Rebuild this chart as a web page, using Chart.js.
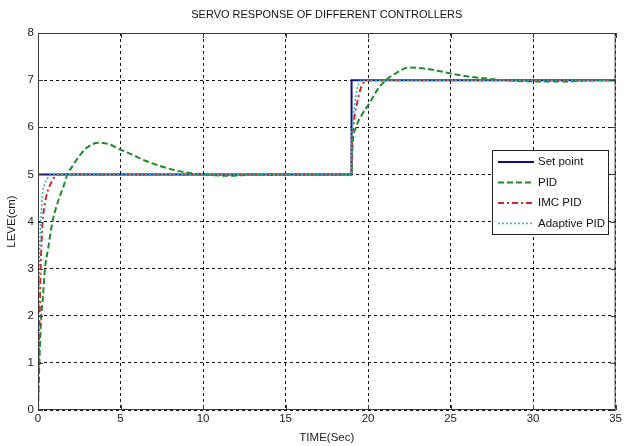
<!DOCTYPE html>
<html>
<head>
<meta charset="utf-8">
<script src="https://cdn.jsdelivr.net/npm/chart.js@4.4.1/dist/chart.umd.min.js"></script>
<style>
  html, body { margin: 0; padding: 0; background: #fff; }
</style>
</head>
<body>
<canvas id="servoChart" width="624" height="446"></canvas>
<script>
/* ------------------------------------------------------------------ */
/*  Data                               */
/* ------------------------------------------------------------------ */

var CHART_TITLE = 'SERVO RESPONSE OF DIFFERENT CONTROLLERS';
var X_TITLE = 'TIME(Sec)';
var Y_TITLE = 'LEVE(cm)';

var X_TICKS = [0, 5, 10, 15, 20, 25, 30, 35];
var Y_TICKS = [0, 1, 2, 3, 4, 5, 6, 7, 8];

var SERIES_NAMES = ['Set point', 'PID', 'IMC PID', 'Adaptive PID'];

var setPointTime  = [0, 0, 19, 19, 35];
var setPointLevel = [0, 5, 5, 7, 7];

var pidTime  = [0, 0.1, 0.2, 0.3, 0.42, 0.6, 0.88, 1.1, 1.39, 1.55, 1.78, 2.1, 2.34, 2.94, 3.65, 4.3, 4.96, 5.7, 6.37, 7.38, 8.38, 9.19, 10, 10.8, 11.4, 12.2, 13, 19, 19.06, 19.27, 19.6, 20.07, 20.57, 21.08, 21.7, 22.5, 23.3, 24.2, 25, 26, 27.3, 28.3, 29.1, 30.5, 32, 33, 35];
var pidLevel = [0, 1.2, 2.0, 2.4, 3.0, 3.4, 4.0, 4.3, 4.6, 4.75, 5.0, 5.18, 5.31, 5.56, 5.67, 5.64, 5.53, 5.42, 5.31, 5.18, 5.08, 5.03, 5.0, 4.98, 4.97, 4.98, 5.0, 5.0, 5.6, 6.0, 6.25, 6.5, 6.8, 7.0, 7.15, 7.27, 7.25, 7.2, 7.14, 7.08, 7.03, 7.0, 6.98, 6.97, 6.97, 6.99, 7.0];

var imcTime  = [0, 0.05, 0.1, 0.16, 0.28, 0.38, 0.48, 0.62, 0.77, 0.95, 1.23, 1.6, 19, 19.02, 19.1, 19.2, 19.33, 19.53, 19.7, 19.87, 20.3, 35];
var imcLevel = [0, 1.2, 2.0, 3.0, 4.0, 4.3, 4.5, 4.68, 4.8, 4.92, 5.0, 5.0, 5.0, 5.6, 6.0, 6.28, 6.5, 6.8, 6.93, 7.0, 7.0, 7.0];

var adaptiveTime  = [0, 0.04, 0.08, 0.16, 0.22, 0.28, 0.42, 0.58, 0.8, 1.2, 19, 19.01, 19.05, 19.2, 19.33, 19.45, 19.57, 20, 35];
var adaptiveLevel = [0, 2.0, 3.0, 4.0, 4.3, 4.6, 4.8, 4.92, 5.0, 5.0, 5.0, 5.6, 6.0, 6.5, 6.8, 6.93, 7.0, 7.0, 7.0];

/* ------------------------------------------------------------------ */
/*  Helpers                                                           */
/* ------------------------------------------------------------------ */

var FONT_FAMILY = '"Liberation Sans", Arial, sans-serif';
var FONT_SIZE = 11.5;

function toPoints(xs, ys) {
  return xs.map(function (x, i) {
    return { x: x, y: ys[i] };
  });
}

/** Draws the MATLAB-style axes box and short inward tick marks. */
var axesBoxPlugin = {
  id: 'axesBox',
  afterDraw: function (chart) {
    var ctx = chart.ctx;
    var a = chart.chartArea;
    var xs = chart.scales.x;
    var ys = chart.scales.y;
    ctx.save();
    ctx.strokeStyle = '#3a3a3a';
    ctx.lineWidth = 1;
    ctx.strokeRect(a.left + 0.5, a.top + 0.5, a.right - a.left - 1, a.bottom - a.top - 1);
    ctx.beginPath();
    X_TICKS.forEach(function (v) {
      var px = Math.round(xs.getPixelForValue(v)) + 0.5;
      ctx.moveTo(px, a.bottom); ctx.lineTo(px, a.bottom - 5);
      ctx.moveTo(px, a.top); ctx.lineTo(px, a.top + 5);
    });
    Y_TICKS.forEach(function (v) {
      var py = Math.round(ys.getPixelForValue(v)) + 0.5;
      ctx.moveTo(a.left, py); ctx.lineTo(a.left + 5, py);
      ctx.moveTo(a.right, py); ctx.lineTo(a.right - 5, py);
    });
    ctx.stroke();
    ctx.restore();
  },
};

/** Draws the boxed legend inside the plot, to the right. */
var boxLegendPlugin = {
  id: 'boxLegend',
  afterDraw: function (chart) {
    var ctx = chart.ctx;
    var left = 492, top = 150, width = 116, height = 84;
    var rowGap = 20.5, firstRow = 162;
    ctx.save();
    ctx.fillStyle = '#fff';
    ctx.fillRect(left, top, width, height);
    ctx.strokeStyle = '#222';
    ctx.lineWidth = 1;
    ctx.strokeRect(left + 0.5, top + 0.5, width, height);
    ctx.font = FONT_SIZE + 'px ' + FONT_FAMILY;
    ctx.textBaseline = 'middle';
    chart.data.datasets.forEach(function (ds, i) {
      var y = firstRow + i * rowGap;
      ctx.beginPath();
      ctx.setLineDash(ds.borderDash || []);
      ctx.strokeStyle = ds.borderColor;
      ctx.lineWidth = ds.borderWidth;
      ctx.moveTo(498, y);
      ctx.lineTo(534, y);
      ctx.stroke();
      ctx.setLineDash([]);
      ctx.fillStyle = '#111';
      ctx.fillText(ds.label, 538, y);
    });
    ctx.restore();
  },
};

/* ------------------------------------------------------------------ */
/*  Chart                                                             */
/* ------------------------------------------------------------------ */

var datasets = [
  {
    label: SERIES_NAMES[0],
    data: toPoints(setPointTime, setPointLevel),
    borderColor: '#10108a',
    borderWidth: 2,
    tension: 0,
    order: 4,
  },
  {
    label: SERIES_NAMES[1],
    data: toPoints(pidTime, pidLevel),
    borderColor: '#1f8a2c',
    borderWidth: 2,
    borderDash: [6, 3],
    cubicInterpolationMode: 'monotone',
    order: 3,
  },
  {
    label: SERIES_NAMES[2],
    data: toPoints(imcTime, imcLevel),
    borderColor: '#d02828',
    borderWidth: 2,
    borderDash: [6, 3, 2, 3],
    cubicInterpolationMode: 'monotone',
    order: 2,
  },
  {
    label: SERIES_NAMES[3],
    data: toPoints(adaptiveTime, adaptiveLevel),
    borderColor: '#22b4c8',
    borderWidth: 1.5,
    borderDash: [2, 2],
    cubicInterpolationMode: 'monotone',
    order: 1,
  },
];

Chart.defaults.font.family = FONT_FAMILY;
Chart.defaults.font.size = FONT_SIZE;
Chart.defaults.color = '#1a1a1a';

new Chart(document.getElementById('servoChart').getContext('2d'), {
  type: 'line',
  data: { datasets: datasets },
  options: {
    responsive: false,
    animation: false,
    events: [],
    layout: { padding: { left: 0, right: 7, top: 0, bottom: 0 } },
    elements: { point: { radius: 0 } },
    scales: {
      x: {
        type: 'linear',
        min: 0,
        max: 35,
        afterBuildTicks: function (scale) {
          scale.ticks = X_TICKS.map(function (v) { return { value: v }; });
        },
        afterFit: function (scale) { scale.height = 36; },
        ticks: { padding: 2, maxRotation: 0, autoSkip: false },
        grid: { color: '#111', lineWidth: 1, drawTicks: false },
        border: { display: false, dash: [3, 3] },
        title: { display: true, text: X_TITLE, padding: { top: 0, bottom: 1 } },
      },
      y: {
        type: 'linear',
        min: 0,
        max: 8,
        afterBuildTicks: function (scale) {
          scale.ticks = Y_TICKS.map(function (v) { return { value: v }; });
        },
        afterFit: function (scale) { scale.width = 38; },
        ticks: { padding: 4, autoSkip: false },
        grid: { color: '#111', lineWidth: 1, drawTicks: false },
        border: { display: false, dash: [3, 3] },
        title: { display: true, text: Y_TITLE, padding: { top: 5, bottom: 0 } },
      },
    },
    plugins: {
      legend: { display: false },
      tooltip: { enabled: false },
      title: {
        display: true,
        text: CHART_TITLE,
        fullSize: false,
        color: '#111',
        font: { size: 11, weight: 'normal' },
        padding: { top: 8, bottom: 11.8 },
      },
    },
  },
  plugins: [axesBoxPlugin, boxLegendPlugin],
});
</script>
</body>
</html>
